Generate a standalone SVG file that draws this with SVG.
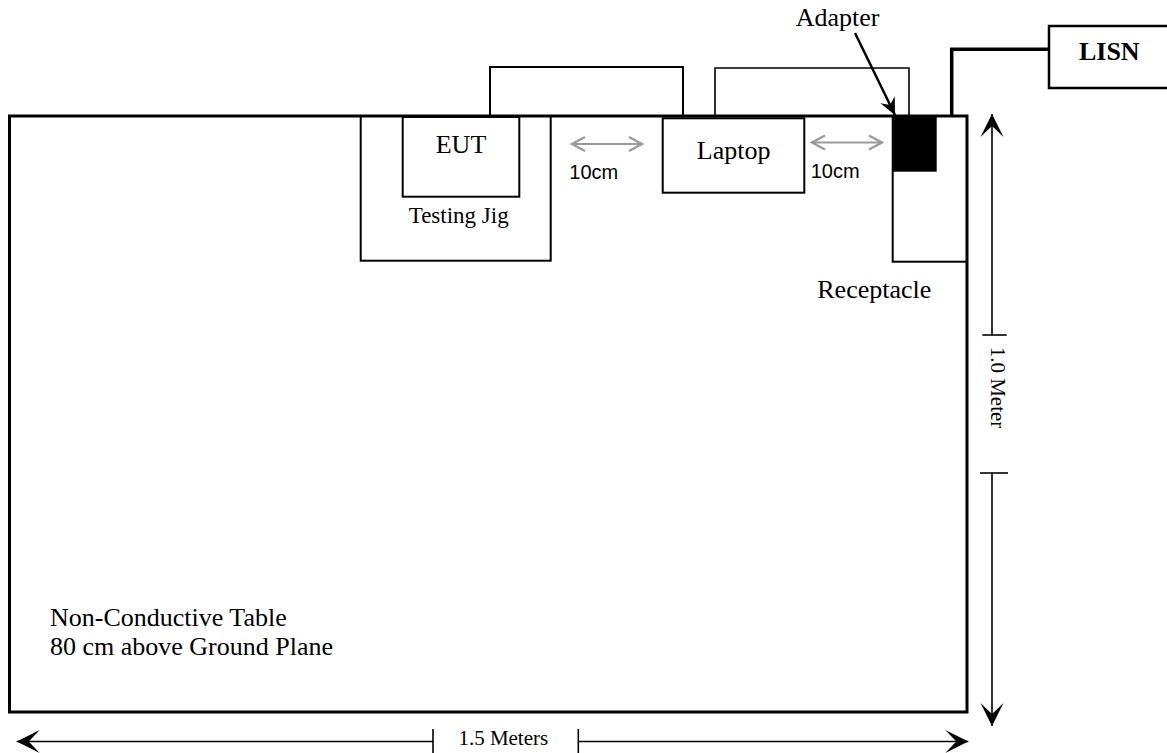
<svg xmlns="http://www.w3.org/2000/svg" width="1167" height="753" viewBox="0 0 1167 753">
<style>
.box{fill:none;stroke:#000;stroke-width:2}
.t{font-family:"Liberation Serif","Times New Roman",serif;font-size:26px;fill:#000}
.a{font-family:"Liberation Sans",Arial,sans-serif;font-size:20px;fill:#000}
.dim{stroke:#000;stroke-width:1.6;fill:none}
.gray{stroke:#999;stroke-width:2.2;fill:none}
.cable{fill:none;stroke:#000}
</style>
<defs>
<marker id="dh" markerUnits="userSpaceOnUse" viewBox="-24 -12 26 24" refX="0" refY="0" markerWidth="26" markerHeight="24" orient="auto-start-reverse">
<path d="M0,0 L-23,-11.5 L-12,0 L-23,11.5 Z" fill="#000"/>
</marker>
<marker id="ah" markerUnits="userSpaceOnUse" viewBox="-18 -9 20 18" refX="0" refY="0" markerWidth="20" markerHeight="18" orient="auto">
<path d="M0,0 L-17,-8 L-11,0 L-17,8 Z" fill="#000"/>
</marker>
<marker id="gh" markerUnits="userSpaceOnUse" viewBox="-15 -9 17 18" refX="0" refY="0" markerWidth="17" markerHeight="18" orient="auto-start-reverse">
<path d="M-13,-7 L0,0 L-13,7" fill="none" stroke="#999" stroke-width="2.2"/>
</marker>
</defs>

<g id="table">
<rect x="9.5" y="116" width="957.5" height="596" fill="none" stroke="#000" stroke-width="3"/>
<text class="t" x="50" y="625.7">Non-Conductive Table</text>
<text class="t" x="50" y="655">80 cm above Ground Plane</text>
</g>

<g id="testing-jig">
<rect class="box" x="360.7" y="116" width="190" height="144.7"/>
<text class="t" x="458.7" y="222.7" text-anchor="middle" style="font-size:23px">Testing Jig</text>
</g>

<g id="eut">
<rect class="box" x="402.7" y="117" width="116.6" height="79.7"/>
<text class="t" x="461" y="152.7" text-anchor="middle">EUT</text>
</g>

<g id="laptop">
<rect class="box" x="662.7" y="118.3" width="141.6" height="74.4"/>
<text class="t" x="733.7" y="159.3" text-anchor="middle">Laptop</text>
</g>

<g id="receptacle">
<rect class="box" x="892.7" y="116" width="74.3" height="145.7"/>
<text class="t" x="874.3" y="297.7" text-anchor="middle">Receptacle</text>
</g>

<g id="adapter">
<rect x="892.7" y="116" width="44" height="55.7" fill="#000"/>
<text class="t" x="837.5" y="26" text-anchor="middle">Adapter</text>
</g>

<g id="lisn">
<rect x="1049" y="26" width="122" height="62" fill="none" stroke="#000" stroke-width="2.5"/>
<text class="t" x="1109.3" y="60" text-anchor="middle" font-weight="bold">LISN</text>
</g>

<g id="connectors">
<path class="cable" d="M490,116 V67 H683 V116" stroke-width="2"/>
<path class="cable" d="M715,116 V68 H909 V116" stroke-width="1.6"/>
<path class="cable" d="M951.7,116 V49.3 H1049" stroke-width="3.5"/>
<line x1="855" y1="33" x2="895" y2="115" stroke="#000" stroke-width="2.5" marker-end="url(#ah)"/>
<line class="gray" x1="572" y1="144" x2="642" y2="144" marker-start="url(#gh)" marker-end="url(#gh)"/>
<line class="gray" x1="812" y1="142.5" x2="882" y2="142.5" marker-start="url(#gh)" marker-end="url(#gh)"/>
</g>

<g id="spacing-labels">
<text class="a" x="569.3" y="179.3">10cm</text>
<text class="a" x="810.7" y="178.3">10cm</text>
</g>

<g id="dim-width">
<line class="dim" x1="16.7" y1="741.5" x2="433" y2="741.5" marker-start="url(#dh)"/>
<line class="dim" x1="433" y1="729" x2="433" y2="753"/>
<line class="dim" x1="578.3" y1="741.5" x2="968.3" y2="741.5" marker-end="url(#dh)"/>
<line class="dim" x1="578.3" y1="729" x2="578.3" y2="753"/>
<text class="t" x="503.3" y="745" text-anchor="middle" style="font-size:21px">1.5 Meters</text>
</g>

<g id="dim-depth">
<line class="dim" x1="992" y1="114" x2="992" y2="335" marker-start="url(#dh)"/>
<line class="dim" x1="982.3" y1="335" x2="1006.7" y2="335"/>
<line class="dim" x1="980" y1="473" x2="1008" y2="473"/>
<line class="dim" x1="992" y1="473" x2="992" y2="726" marker-end="url(#dh)"/>
<text class="t" transform="translate(991,387.5) rotate(90)" x="0" y="0" text-anchor="middle" style="font-size:21px">1.0 Meter</text>
</g>
</svg>
